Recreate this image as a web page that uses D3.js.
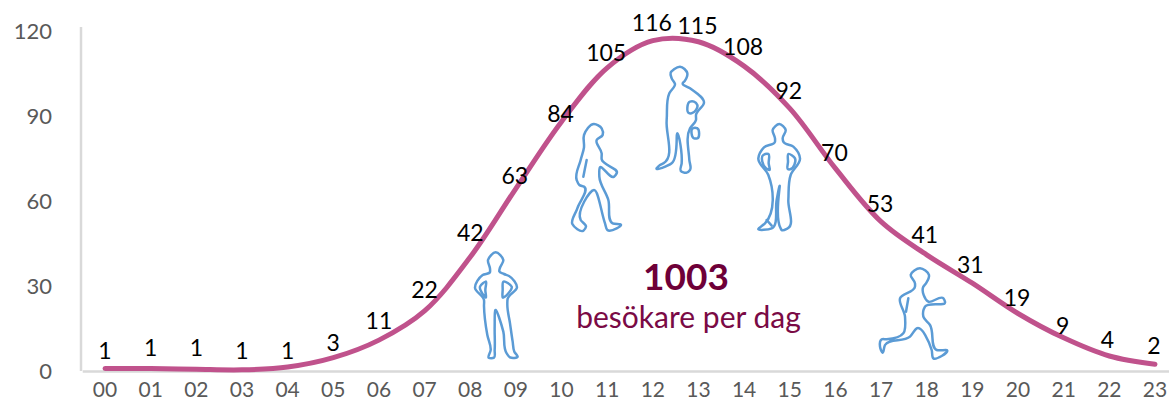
<!DOCTYPE html>
<html><head><meta charset="utf-8">
<script src="https://cdn.jsdelivr.net/npm/d3@7/dist/d3.min.js"></script>
<style>html,body{margin:0;padding:0;background:#fff;overflow:hidden}svg{display:block}text{font-family:Lato,"Open Sans",sans-serif}</style>
</head><body><svg id="c" width="1169" height="404"></svg>
<script>
const hours=["00","01","02","03","04","05","06","07","08","09","10","11","12","13","14","15","16","17","18","19","20","21","22","23"];
const visitors=[1,1,1,1,1,3,11,22,42,63,84,105,116,115,108,92,70,53,41,31,19,9,4,2];
// height of the drawn line at each hour (it is a smoothed trend of the labelled counts)
const trend=[0.9,0.9,0.6,0.4,1.4,4.7,10.9,21.2,40.2,64.4,88,107,116.6,116.2,107.6,92.7,71.5,52.7,41,31,20.3,11.7,5.3,2.4];
const yTicks=[0,30,60,90,120];
const totalValue="1003";
const totalCaption="besökare per dag";
// manual label nudges, as placed in the original
const labelDx=[0,0,0,0,0,0,0,0,0,-1,-1,-1,-1,-1,-1,-1,-1,-1,-2,-2,-1,-1,-2,-1];
const labelDy=[-18,-21,-21,-18,-18,-21,-20,-20,-20,-18,-20,-22,-20,-20,-19,-20,-21,-18,-21,-19,-20,-21,-21,-20];

const svg=d3.select("#c");
const x=d3.scaleBand().domain(hours).range([82.2,1177.8]);
const y=d3.scaleLinear().domain([0,120]).range([371,31]);
const cx=h=>x(h)+x.bandwidth()/2;

const axisColor="#D9D9D9",tickColor="#595959";
const gx=svg.append("g").attr("transform","translate(0,371)").call(d3.axisBottom(x).tickSize(0).tickPadding(11));
gx.select(".domain").attr("stroke",axisColor).attr("stroke-width",2.5);
gx.selectAll("text").attr("fill",tickColor).attr("font-size",21).attr("font-family","Lato");
const gy=svg.append("g").attr("transform","translate(81,0)").call(d3.axisLeft(y).tickValues(yTicks).tickSize(0).tickPadding(29));
gy.select(".domain").remove();
gy.selectAll("text").attr("fill",tickColor).attr("font-size",22).attr("font-family","Lato");
svg.append("line").attr("x1",81).attr("x2",81).attr("y1",y(120)-4).attr("y2",y(0)).attr("stroke",axisColor).attr("stroke-width",2.5);

const line=d3.line().x((d,i)=>cx(hours[i])).y(d=>y(d)).curve(d3.curveCatmullRom.alpha(0.5));
svg.append("path").datum(trend).attr("d",line).attr("fill","none").attr("stroke","#C0528C").attr("stroke-width",5).attr("stroke-linecap","round");

svg.append("g").selectAll("text").data(visitors).join("text")
  .attr("x",(d,i)=>cx(hours[i])+labelDx[i]).attr("y",(d,i)=>y(d)+labelDy[i])
  .attr("text-anchor","middle").attr("dominant-baseline","central")
  .attr("font-size",23).attr("fill","#000").text(d=>d);

svg.append("text").attr("x",686).attr("y",290).attr("text-anchor","middle").attr("font-size",37).attr("font-weight",700).attr("fill","#6E0038").text(totalValue);
svg.append("text").attr("x",688.5).attr("y",328).attr("text-anchor","middle").attr("font-size",30).attr("fill","#7A0A45").text(totalCaption);

// decorative figures (outline silhouettes), smoothed closed outlines in a 3x local space
const closed=d3.line().curve(d3.curveCatmullRomClosed.alpha(1));
const open=d3.line().curve(d3.curveCatmullRom.alpha(1));
const figures=[
 {o:[460,60],loops:[
  [[90,626],[84,600],[107,577],[130,600],[119,626],[118,634],[132,642],[147,648],[171,682],[143,716],[142,735],[150,790],[158,845],[163,875],[173,890],[150,892],[140,880],[130,815],[106,750],[104,800],[104,870],[102,893],[86,893],[92,870],[82,825],[72,738],[72,720],[45,683],[68,645],[90,636]],
  [[60,680],[78,665],[76,690],[78,712]],[[128,712],[128,690],[130,665],[155,680]]]},
 {o:[460,60],lines:[[[380,300],[375,325],[370,350]]],loops:[
  [[372,262],[372,225],[402,192],[425,205],[428,225],[410,240],[425,280],[425,298],[470,340],[462,350],[420,322],[418,350],[445,420],[458,490],[483,495],[470,505],[442,510],[435,490],[402,390],[362,480],[378,500],[370,512],[337,492],[352,445],[372,380],[358,375],[350,360],[362,300]]]},
 {o:[460,60],loops:[
  [[632,38],[642,28],[660,20],[682,40],[675,62],[668,70],[690,85],[732,128],[708,165],[708,180],[690,205],[688,300],[690,330],[680,338],[662,332],[665,310],[652,220],[635,310],[590,325],[600,315],[610,310],[620,180],[628,100],[645,72],[635,55]],
  [[690,125],[702,125],[712,135],[695,160],[688,160]],
  [[698,205],[712,205],[712,235],[702,235]]]},
 {o:[460,60],loops:[
  [[945,235],[938,210],[958,192],[977,210],[968,235],[970,245],[1000,260],[1020,295],[992,345],[985,420],[983,505],[965,510],[962,505],[958,380],[950,420],[935,505],[895,507],[915,490],[925,345],[895,295],[912,262],[945,245]],
  [[910,285],[925,282],[926,310],[928,330],[918,325]],[[985,282],[1005,295],[990,328],[985,328],[984,305]]],
  lines:[[[920,480],[935,497]]]},
 {o:[860,250],lines:[[[145,145],[138,185]]],loops:[
  [[165,100],[152,75],[180,55],[207,75],[198,100],[190,110],[205,155],[250,145],[255,155],[195,170],[190,200],[210,225],[230,300],[262,302],[245,318],[220,325],[215,300],[170,235],[150,260],[75,285],[68,308],[60,290],[65,268],[80,268],[130,250],[135,200],[120,145],[165,110]]]}
];
const figs=svg.append("g").selectAll("g").data(figures).join("g")
  .attr("transform",f=>`translate(${f.o[0]},${f.o[1]}) scale(${1/3})`);
figs.selectAll("path").data(f=>[...f.loops.map(p=>closed(p)),...(f.lines||[]).map(p=>open(p))]).join("path")
  .attr("d",d=>d).attr("fill","none").attr("stroke","#5B9BD5").attr("stroke-width",7.5).attr("stroke-linejoin","round").attr("stroke-linecap","round");
</script></body></html>
